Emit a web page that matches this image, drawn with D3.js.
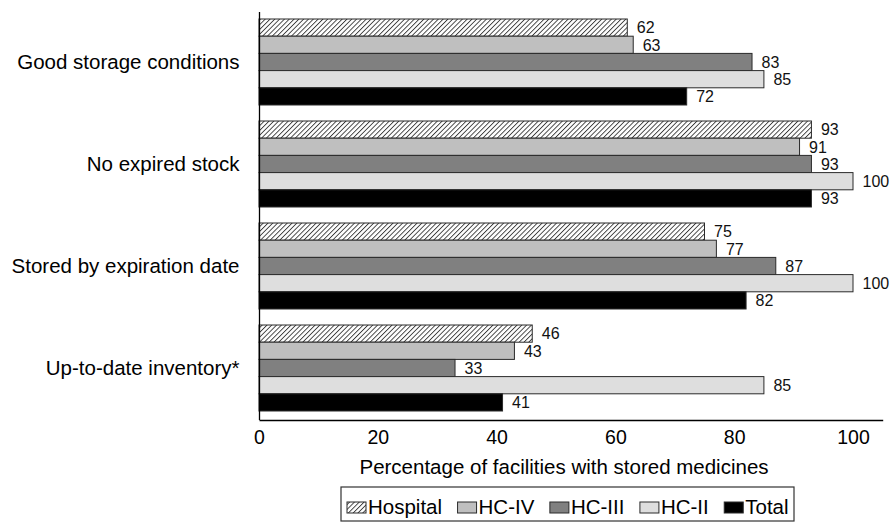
<!DOCTYPE html>
<html>
<head>
<meta charset="utf-8">
<script src="https://cdn.jsdelivr.net/npm/d3@7"></script>
<style>
html,body{margin:0;padding:0;background:#fff;}
svg{display:block;font-family:"Liberation Sans",Arial,sans-serif;}
</style>
</head>
<body>
<svg id="chart" width="891" height="523"></svg>
<script>
const categories = ["Good storage conditions", "No expired stock", "Stored by expiration date", "Up-to-date inventory*"];
const seriesNames = ["Hospital", "HC-IV", "HC-III", "HC-II", "Total"];
const hospital = [62, 93, 75, 46];
const hcIV = [63, 91, 77, 43];
const hcIII = [83, 93, 87, 33];
const hcII = [85, 100, 100, 85];
const total = [72, 93, 82, 41];
const xTicks = [0, 20, 40, 60, 80, 100];
const xTitle = "Percentage of facilities with stored medicines";

const seriesValues = [hospital, hcIV, hcIII, hcII, total];
const fills = ["url(#hatch)", "#bfbfbf", "#808080", "#dedede", "#000000"];
const FONT = "'Liberation Sans', Arial, sans-serif";

const svg = d3.select("#chart");
const defs = svg.append("defs");
const pat = defs.append("pattern")
  .attr("id", "hatch").attr("patternUnits", "userSpaceOnUse")
  .attr("width", 3.4).attr("height", 3.4)
  .attr("patternTransform", "rotate(45)");
pat.append("rect").attr("width", 3.4).attr("height", 3.4).attr("fill", "#fff");
pat.append("line").attr("x1", 0).attr("y1", 0).attr("x2", 0).attr("y2", 3.4)
  .attr("stroke", "#3a3a3a").attr("stroke-width", 1.8);

const x = d3.scaleLinear().domain([0, 105]).range([259, 882.7]);
const y = d3.scaleBand().domain(categories).range([11, 419]).paddingInner(16/102).paddingOuter(8/102);
const ySub = d3.scaleBand().domain(seriesNames).range([0, y.bandwidth()]);

// bars
const rows = [];
categories.forEach((c, i) => {
  seriesNames.forEach((s, j) => rows.push({c, s, j, v: seriesValues[j][i]}));
});
const g = svg.append("g");
g.selectAll("rect.bar").data(rows).join("rect")
  .attr("class", "bar")
  .attr("x", x(0))
  .attr("y", d => y(d.c) + ySub(d.s))
  .attr("width", d => x(d.v) - x(0))
  .attr("height", ySub.bandwidth())
  .attr("fill", d => fills[d.j])
  .attr("stroke", "#2a2a2a").attr("stroke-width", 1);

g.selectAll("text.val").data(rows).join("text")
  .attr("class", "val")
  .attr("x", d => x(d.v) + 9.5)
  .attr("y", d => y(d.c) + ySub(d.s) + ySub.bandwidth()/2)
  .attr("dy", "0.36em")
  .attr("font-size", 16).attr("fill", "#111").attr("font-family", FONT)
  .text(d => d.v);

// axes
const xAxis = d3.axisBottom(x).tickValues(xTicks).tickSize(0).tickPadding(10);
const gx = svg.append("g").attr("transform", "translate(0,420)").call(xAxis);
gx.select(".domain").attr("stroke", "#000").attr("stroke-width", 1.3);
gx.selectAll("text").attr("font-size", 19.5).attr("fill", "#000").attr("font-family", FONT);

const yAxis = d3.axisLeft(y).tickSize(0).tickPadding(20);
const gy = svg.append("g").attr("transform", "translate(259.5,0)").call(yAxis);
gy.select(".domain").attr("d", "M0,12V420").attr("stroke", "#000").attr("stroke-width", 1.3);
gy.selectAll("text").attr("font-size", 20.5).attr("fill", "#000").attr("font-family", FONT);

svg.append("text").attr("x", (x(0) + x(100)) / 2 + 8).attr("y", 467).attr("dy", "0.36em")
  .attr("text-anchor", "middle").attr("font-size", 20.5).attr("fill", "#000").attr("font-family", FONT)
  .text(xTitle);

// legend
const lg = svg.append("g");
lg.append("rect").attr("x", 341).attr("y", 487).attr("width", 453).attr("height", 34)
  .attr("fill", "#fff").attr("stroke", "#333").attr("stroke-width", 1.2);
let lx = 347;
seriesNames.forEach((s, j) => {
  lg.append("rect").attr("x", lx).attr("y", 502).attr("width", 19).attr("height", 11)
    .attr("fill", fills[j]).attr("stroke", "#2a2a2a").attr("stroke-width", 1);
  const t = lg.append("text").attr("x", lx + 21).attr("y", 507).attr("dy", "0.36em")
    .attr("font-size", 20.5).attr("fill", "#000").attr("font-family", FONT).text(s);
  lx += 21 + t.node().getComputedTextLength() + 15.5;
});
</script>
</body>
</html>
